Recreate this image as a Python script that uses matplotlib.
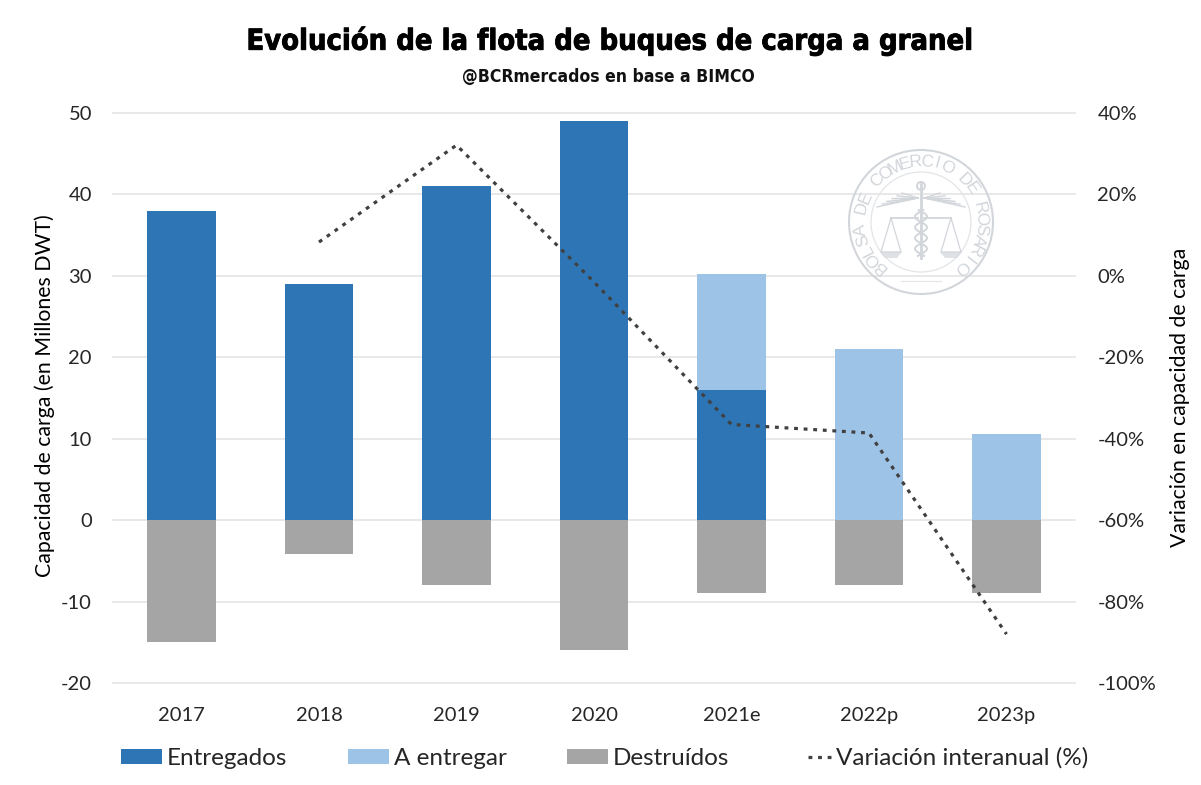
import matplotlib
matplotlib.use("Agg")
import matplotlib.pyplot as plt
from matplotlib.patches import Circle, Polygon
from matplotlib.patheffects import withStroke
import numpy as np

categories = ["2017", "2018", "2019", "2020", "2021e", "2022p", "2023p"]
entregados = [38, 29, 41, 49, 16, 0, 0]
a_entregar = [0, 0, 0, 0, 14.2, 21, 10.6]
destruidos = [-15, -4.2, -8, -16, -9, -8, -9]
variacion = [np.nan, 8.3, 32.1, -1.5, -36.5, -38.6, -88]
left_ticks = [-20, -10, 0, 10, 20, 30, 40, 50]
right_ticks = [-100, -80, -60, -40, -20, 0, 20, 40]

plt.rcParams['font.family'] = ['Lato', 'DejaVu Sans']
plt.rcParams['axes.unicode_minus'] = False
fig = plt.figure(figsize=(12.01, 7.85), dpi=100, facecolor='white')
W, H = 1201, 785
ax = fig.add_axes([112.75/W, 1-683/H, 962.5/W, 570/H])
x = np.arange(len(categories))
w = 0.5
ax.bar(x, entregados, w, color='#2E75B6', label='Entregados', zorder=3)
ax.bar(x, a_entregar, w, bottom=entregados, color='#9DC3E6', label='A entregar', zorder=3)
ax.bar(x, destruidos, w, color='#A5A5A5', label='Destruídos', zorder=3)
ax.set_xlim(-0.5, 6.5)
ax.set_ylim(-20, 50)
ax.set_yticks(left_ticks)
ax.set_xticks(x, categories)
ax.grid(axis='y', color='#E4E4E4', lw=1.2, zorder=0, clip_on=False)
ax.set_axisbelow(True)
ax.tick_params(length=0, labelsize=14.5, colors='#262626')
ax.tick_params(axis='x', pad=17)
ax.tick_params(axis='y', pad=15)
for s in ax.spines.values():
    s.set_visible(False)
ax.set_ylabel('Capacidad de carga (en Millones DWT)', fontsize=15.3, color='black')
ax.yaxis.set_label_coords(55/W, 1-396/H, transform=fig.transFigure)

ax2 = ax.twinx()
ax2.plot(x, variacion, color='#404040', ls=(0, (1.2, 1.8)), lw=2.3, label='Variación interanual (%)', zorder=5)
ax2.set_ylim(-100, 40)
ax2.set_yticks(right_ticks, [f'{t}%' for t in right_ticks])
ax2.tick_params(length=0, labelsize=14.5, colors='#262626', pad=16)
for s in ax2.spines.values():
    s.set_visible(False)
ax2.set_ylabel('Variación en capacidad de carga', fontsize=15.3, color='black')
ax2.yaxis.set_label_coords(1170/W, 1-397/H, transform=fig.transFigure)

# watermark seal
SC = '#D2D6DB'
sax = fig.add_axes([(921-80)/W, 1-(222+80)/H, 160/W, 160/H], zorder=10)
sax.set_xlim(-80, 80); sax.set_ylim(-80, 80); sax.axis('off'); sax.patch.set_alpha(0)
sax.add_patch(Circle((0, 0), 72, fill=False, ec=SC, lw=1.5))
sax.add_patch(Circle((0, 0), 50, fill=False, ec='#E2E5E8', lw=0.9))
seal = "BOLSA DE COMERCIO DE ROSARIO"
angs = np.linspace(228, -48, len(seal))
for ch, a in zip(seal, angs):
    t = np.deg2rad(a)
    sax.text(60.5*np.cos(t), 60.5*np.sin(t), ch, rotation=a-90, ha='center', va='center',
             fontsize=12.5, color=SC, family=['Liberation Sans', 'DejaVu Sans'])
sax.plot([0, 0], [-36, 38], color=SC, lw=2)
sax.add_patch(Circle((0, 36), 4, fill=False, ec=SC, lw=1.4))
for sgn in (-1, 1):
    for k in range(6):
        sax.plot([sgn*3, sgn*(44-k*5)], [24, 18+k*2.2+(5-k)*-0.6], color=SC, lw=1.0)
    c = sgn*30
    sax.plot([c, c-10, c+10, c], [4, -30, -30, 4], color=SC, lw=0.9)
    sax.add_patch(Polygon([[c-11, -30], [c+11, -30], [c+6, -36], [c-6, -36]], fc=SC, ec='none', alpha=.7))
    sax.plot([sgn*3, c], [4, 4], color=SC, lw=1.3)
yy = np.linspace(-34, 12, 80)
sax.plot(6*np.sin(yy/3.4), yy, color=SC, lw=1.4)
sax.plot(-6*np.sin(yy/3.4), yy, color=SC, lw=1.4)
sax.plot([-20, 20], [-59, -59], color='#E2E5E8', lw=0.8)

title = fig.text(608/W, 1-41/H, 'Evolución de la flota de buques de carga a granel', ha='center', va='center',
         fontsize=26, fontweight='bold', family=['DejaVu Sans'], stretch='condensed', color='black',
         path_effects=[withStroke(linewidth=0.6, foreground='black')])
sub = fig.text(608/W, 1-77/H, '@BCRmercados en base a BIMCO', ha='center', va='center', fontsize=12,
         fontweight='bold', family=['DejaVu Sans'], stretch='condensed', color='#111111')
# fit the header widths to the reference
r = fig.canvas.get_renderer()
title.set_fontsize(26*727/title.get_window_extent(r).width)
sub.set_fontsize(12*292/sub.get_window_extent(r).width)

h1, l1 = ax.get_legend_handles_labels()
h2, l2 = ax2.get_legend_handles_labels()
leg = fig.legend(h1+h2, l1+l2, loc='center', bbox_to_anchor=(604.5/W, 1-758/H), ncol=4, frameon=False,
           fontsize=17.5, handlelength=1.69, handleheight=0.58, columnspacing=2.5, handletextpad=0.2,
           labelcolor='#262626')
ln = leg.get_lines()[0]
xd, yd = ln.get_xdata(), ln.get_ydata()
ln.set_data([xd[0] + 0.44*(xd[-1]-xd[0]), xd[-1]], [yd[0], yd[0]])

fig.savefig('out.png', dpi=100)
